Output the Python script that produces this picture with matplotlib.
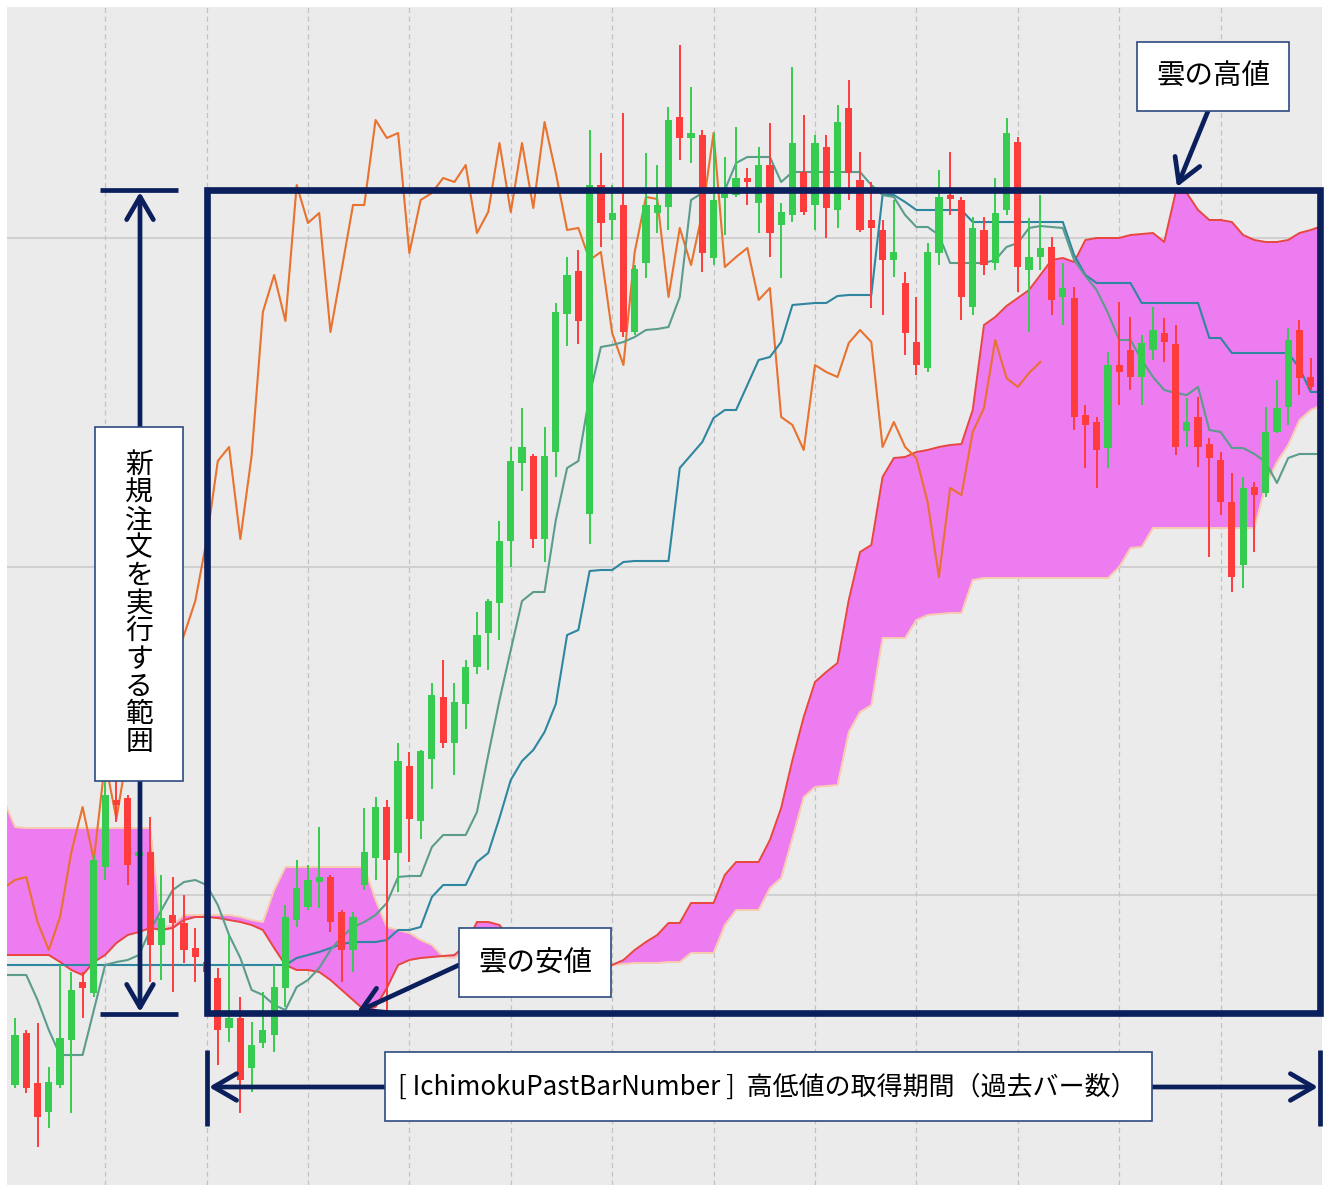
import numpy as np
import matplotlib.pyplot as plt
from matplotlib.patches import Rectangle

plt.rcParams['font.family'] = ['Noto Sans CJK JP', 'DejaVu Sans']

# candles, bar index 0..117 (the last two sit under the right border)
opens = [
    101.00, 101.52, 101.02, 100.73, 101.00, 101.45, 102.03, 101.92, 103.18, 103.85,
    103.87, 103.29, 103.33, 102.40, 102.70, 102.62, 102.37, 102.23, 102.07, 101.57,
    101.67, 101.17, 101.42, 101.50, 101.97, 102.65, 102.78, 103.03, 103.08, 102.73,
    102.35, 103.00, 103.27, 103.78, 103.32, 104.19, 103.64, 104.26, 104.88, 104.42,
    104.81, 105.18, 105.52, 105.82, 106.44, 107.22, 107.29, 106.46, 107.33, 108.71,
    109.14, 106.71, 110.00, 109.65, 109.80, 108.53, 109.22, 109.72, 109.78, 110.68,
    110.47, 110.50, 109.27, 109.87, 109.90, 110.05, 109.82, 110.20, 109.60, 109.70,
    110.13, 109.80, 110.38, 109.75, 110.77, 110.05, 109.65, 109.55, 109.25, 109.02,
    108.43, 108.17, 109.32, 109.88, 109.85, 108.78, 109.55, 109.22, 109.75, 110.43,
    109.15, 109.28, 109.38, 108.88, 108.87, 107.70, 107.63, 107.37, 108.20, 108.35,
    108.08, 108.35, 108.52, 108.41, 107.54, 107.68, 107.41, 107.25, 106.83, 106.20,
    106.98, 106.92, 107.53, 107.78, 108.55, 108.08, 107.98, 108.12,
]
highs = [
    101.67, 101.55, 101.62, 101.18, 102.20, 102.13, 102.13, 103.30, 104.05, 104.05,
    103.90, 103.40, 103.68, 103.10, 103.08, 102.90, 102.57, 102.35, 102.17, 102.50,
    101.88, 101.63, 101.93, 102.20, 102.80, 103.25, 103.20, 103.58, 103.10, 102.75,
    102.73, 103.77, 103.88, 103.85, 104.42, 104.33, 104.35, 105.02, 105.25, 105.02,
    105.25, 105.73, 105.86, 106.64, 107.38, 107.77, 107.31, 107.58, 108.82, 109.28,
    109.35, 110.55, 110.32, 110.00, 110.72, 109.20, 110.32, 110.20, 110.78, 111.40,
    110.98, 110.55, 110.52, 110.28, 110.58, 110.17, 110.38, 110.62, 109.82, 111.18,
    110.70, 110.50, 110.50, 110.80, 111.05, 110.33, 110.03, 109.65, 109.85, 109.13,
    108.88, 109.42, 110.15, 110.33, 109.88, 109.68, 109.68, 110.07, 110.67, 110.48,
    109.67, 109.90, 109.48, 109.22, 108.98, 107.80, 107.68, 108.33, 108.83, 108.68,
    108.50, 108.78, 108.67, 108.60, 107.87, 107.88, 107.47, 107.33, 107.12, 107.08,
    107.03, 107.78, 108.05, 108.57, 108.65, 108.27, 108.20, 108.30,
]
lows = [
    100.97, 100.92, 100.38, 100.57, 100.97, 100.72, 101.67, 101.88, 103.05, 103.63,
    103.00, 103.25, 102.03, 102.05, 101.93, 102.22, 102.03, 101.95, 101.20, 101.43,
    100.72, 100.93, 101.37, 101.33, 101.78, 102.58, 102.75, 102.77, 102.53, 102.03,
    102.13, 102.95, 103.05, 101.75, 102.93, 103.23, 103.46, 103.96, 104.37, 104.10,
    104.56, 105.11, 105.15, 105.45, 106.18, 106.94, 106.37, 106.23, 107.08, 108.39,
    108.41, 106.41, 109.38, 109.45, 108.48, 108.50, 109.07, 109.52, 109.55, 110.25,
    110.22, 109.13, 109.20, 109.50, 109.88, 109.80, 109.52, 109.28, 109.07, 109.63,
    109.70, 109.55, 109.47, 109.57, 109.85, 109.53, 108.77, 108.70, 109.08, 108.30,
    108.10, 108.13, 109.20, 109.70, 108.65, 108.70, 109.10, 109.15, 109.70, 108.93,
    108.53, 109.15, 108.70, 108.60, 107.55, 107.17, 106.97, 107.17, 107.80, 107.95,
    107.80, 108.25, 108.23, 107.30, 107.38, 107.18, 106.28, 106.70, 105.93, 105.97,
    106.33, 106.88, 107.52, 107.60, 107.90, 107.95, 107.90, 108.05,
]
closes = [
    101.50, 100.97, 100.68, 101.03, 101.47, 101.95, 101.97, 103.25, 103.90, 103.80,
    103.20, 103.33, 102.40, 102.67, 102.62, 102.35, 102.28, 102.13, 101.55, 101.67,
    101.05, 101.40, 101.55, 101.98, 102.68, 102.97, 103.05, 103.08, 102.63, 102.35,
    102.68, 103.33, 103.78, 103.25, 104.24, 103.66, 104.34, 104.90, 104.42, 104.83,
    105.18, 105.50, 105.84, 106.44, 107.24, 107.38, 106.46, 107.29, 108.73, 109.10,
    108.64, 110.00, 109.62, 109.72, 108.53, 109.16, 109.80, 109.80, 110.65, 110.47,
    110.52, 109.32, 109.85, 109.92, 110.07, 110.03, 110.20, 109.52, 109.73, 110.42,
    109.73, 110.42, 109.77, 110.63, 110.12, 109.55, 109.57, 109.25, 109.33, 108.52,
    108.20, 109.33, 109.88, 109.86, 108.88, 109.57, 109.20, 109.72, 110.52, 109.18,
    109.28, 109.37, 108.85, 108.97, 107.68, 107.60, 107.35, 108.20, 108.13, 108.08,
    108.42, 108.55, 108.43, 107.38, 107.63, 107.38, 107.27, 106.83, 106.08, 106.97,
    106.90, 107.53, 107.77, 108.45, 108.07, 107.98, 108.12, 108.23,
]

# ichimoku lines as drawn, bar index -1..116
tenkan = [
    102.10, 102.10, 102.10, 101.85, 101.55, 101.30, 101.30, 101.30, 101.75, 102.20,
    102.23, 102.25, 102.30, 102.55, 102.75, 102.95, 103.03, 103.05, 103.00, 102.80,
    102.50, 102.27, 101.95, 101.90, 101.80, 101.75, 101.98, 102.05, 102.17, 102.35,
    102.48, 102.58, 102.63, 102.70, 102.82, 103.08, 103.09, 103.09, 103.38, 103.50,
    103.50, 103.50, 103.73, 104.30, 104.85, 105.35, 105.84, 105.93, 105.93, 106.65,
    107.17, 107.24, 107.90, 108.38, 108.40, 108.43, 108.48, 108.55, 108.56, 108.58,
    108.88, 109.85, 109.92, 109.93, 109.95, 110.22, 110.28, 110.28, 110.28, 110.03,
    110.13, 110.13, 110.13, 110.13, 110.13, 110.13, 110.13, 110.00, 109.90, 109.88,
    109.70, 109.58, 109.58, 109.50, 109.22, 109.22, 109.22, 109.22, 109.25, 109.38,
    109.42, 109.57, 109.59, 109.58, 109.57, 109.25, 109.09, 108.95, 108.72, 108.45,
    108.45, 108.25, 108.08, 107.95, 107.92, 107.90, 107.98, 107.55, 107.53, 107.37,
    107.37, 107.31, 107.23, 107.02, 107.27, 107.31, 107.31, 107.31,
]
kijun = [
    102.20, 102.20, 102.20, 102.20, 102.20, 102.20, 102.20, 102.20, 102.20, 102.20,
    102.20, 102.20, 102.20, 102.20, 102.20, 102.20, 102.20, 102.20, 102.20, 102.20,
    102.20, 102.20, 102.20, 102.20, 102.20, 102.20, 102.27, 102.30, 102.33, 102.37,
    102.41, 102.43, 102.43, 102.43, 102.45, 102.55, 102.55, 102.58, 102.88, 103.00,
    103.00, 103.00, 103.23, 103.32, 103.67, 104.05, 104.24, 104.35, 104.53, 104.81,
    105.50, 105.55, 106.14, 106.15, 106.15, 106.23, 106.24, 106.24, 106.24, 106.24,
    107.17, 107.30, 107.43, 107.67, 107.75, 107.75, 108.00, 108.25, 108.28, 108.43,
    108.80, 108.81, 108.82, 108.82, 108.89, 108.90, 108.90, 108.90, 109.90, 109.90,
    109.83, 109.75, 109.75, 109.75, 109.75, 109.75, 109.63, 109.63, 109.63, 109.63,
    109.63, 109.63, 109.63, 109.63, 109.63, 109.30, 109.10, 109.02, 109.02, 109.02,
    109.02, 108.82, 108.82, 108.82, 108.82, 108.82, 108.82, 108.47, 108.47, 108.32,
    108.32, 108.32, 108.32, 108.32, 108.32, 108.17, 107.93, 107.93,
]
span_a = [
    102.30, 102.30, 102.30, 102.30, 102.30, 102.23, 102.15, 102.10, 102.23, 102.30,
    102.42, 102.50, 102.53, 102.57, 102.55, 102.57, 102.65, 102.68, 102.68, 102.67,
    102.65, 102.63, 102.60, 102.55, 102.37, 102.20, 102.15, 102.15, 102.13, 102.05,
    101.95, 101.85, 101.75, 101.78, 101.97, 102.20, 102.25, 102.27, 102.28, 102.29,
    102.30, 102.40, 102.63, 102.63, 102.60, 102.45, 102.22, 102.22, 102.22, 102.22,
    102.22, 102.22, 102.22, 102.22, 102.20, 102.25, 102.35, 102.43, 102.50, 102.62,
    102.62, 102.82, 102.82, 102.82, 103.10, 103.23, 103.23, 103.23, 103.45, 103.77,
    104.25, 104.68, 105.03, 105.13, 105.22, 105.85, 106.33, 106.40, 107.08, 107.27,
    107.28, 107.33, 107.35, 107.38, 107.40, 107.41, 107.75, 108.60, 108.68, 108.79,
    108.87, 108.95, 109.10, 109.25, 109.27, 109.23, 109.45, 109.47, 109.47, 109.47,
    109.50, 109.51, 109.52, 109.43, 109.92, 109.92, 109.75, 109.65, 109.65, 109.63,
    109.50, 109.45, 109.43, 109.43, 109.45, 109.52, 109.55, 109.59,
]
span_b = [
    103.85, 103.58, 103.57, 103.57, 103.57, 103.57, 103.57, 103.57, 103.57, 103.57,
    103.57, 103.57, 103.57, 103.57, 102.57, 102.60, 102.70, 102.70, 102.70, 102.70,
    102.70, 102.68, 102.65, 102.63, 102.95, 103.18, 103.18, 103.18, 103.18, 103.18,
    103.18, 103.18, 103.18, 102.85, 102.58, 102.55, 102.52, 102.45, 102.40, 102.28,
    102.27, 102.35, 102.40, 102.40, 102.35, 102.30, 102.20, 102.20, 102.20, 102.20,
    102.20, 102.20, 102.20, 102.20, 102.20, 102.21, 102.22, 102.22, 102.22, 102.23,
    102.23, 102.32, 102.32, 102.32, 102.60, 102.75, 102.75, 102.75, 102.97, 103.07,
    103.47, 103.88, 103.98, 103.99, 104.00, 104.53, 104.73, 104.80, 105.47, 105.47,
    105.47, 105.65, 105.70, 105.71, 105.72, 105.72, 106.05, 106.07, 106.07, 106.07,
    106.07, 106.07, 106.07, 106.07, 106.07, 106.07, 106.07, 106.07, 106.07, 106.18,
    106.37, 106.38, 106.57, 106.57, 106.57, 106.57, 106.57, 106.57, 106.57, 106.57,
    106.57, 106.57, 107.00, 107.23, 107.40, 107.65, 107.75, 107.80,
]
chikou_shift = 26

navy = '#0b1f5c'

fig = plt.figure(figsize=(13.24, 11.85), dpi=100)
ax = fig.add_axes([7 / 1324, 0, 1315 / 1324, 1178 / 1185])
ax.set_facecolor('#ebebeb')

xc = np.arange(len(opens))
xl = np.arange(len(tenkan)) - 1

# cloud
ax.fill_between(xl, span_a, span_b, color='#ec7cf0', lw=0, zorder=1)
ax.plot(xl, span_b, color='#f7cdb0', lw=1.4, zorder=2)
ax.plot(xl, span_a, color='#e8463e', lw=1.4, zorder=2)

# lagging span, tenkan, kijun
ax.plot(xc - chikou_shift, closes, color='#e8722e', lw=1.5, zorder=3)
ax.plot(xl, kijun, color='#2f86a0', lw=1.5, zorder=3)
ax.plot(xl, tenkan, color='#5b9c8c', lw=1.5, zorder=3)

# candles
o, h, l, c = map(np.array, (opens, highs, lows, closes))
col = np.where(c >= o, '#36cc4f', '#ff3c3c')
ax.vlines(xc, l, h, colors=col, lw=1.4, zorder=4)
ax.bar(xc, np.maximum(np.abs(c - o), 0.04), bottom=np.minimum(o, c),
       width=0.64, color=col, lw=0, zorder=5)

ax.set_xlim(-0.71, 115.87)
ax.set_ylim(100.0, 111.78)
ax.set_xticks(np.arange(8, 117, 9))
ax.set_yticks([102.90, 106.18, 109.47])
ax.tick_params(length=0, labelbottom=False, labelleft=False)
ax.set_axisbelow(True)
ax.grid(axis='y', color='#c8c8c8', lw=1.1)
ax.grid(axis='x', color='#c2c2c2', lw=0.9, ls=(0, (4, 3)))
for s in ax.spines.values():
    s.set_visible(False)

# annotation layer in pixel space
ov = fig.add_axes([0, 0, 1, 1])
ov.set_xlim(0, 1324)
ov.set_ylim(1185, 0)
ov.axis('off')
ov.patch.set_alpha(0)

ov.add_patch(Rectangle((207, 190), 1113, 823, fill=False, ec=navy, lw=4.8,
                       joinstyle='miter', zorder=5))

arrow = dict(arrowstyle='<->,head_length=0.55,head_width=0.32', lw=3.4,
             color=navy, mutation_scale=30, shrinkA=0, shrinkB=0)
one_way = dict(arrowstyle='->,head_length=0.55,head_width=0.32', lw=3.4,
               color=navy, mutation_scale=30, shrinkA=0, shrinkB=0)

# vertical range arrow (left)
ov.annotate('', xy=(140, 192), xytext=(140, 1012), arrowprops=arrow, zorder=4)
ov.plot([100, 178], [190, 190], color=navy, lw=3.4, solid_capstyle='butt', zorder=4)
ov.plot([100, 178], [1014, 1014], color=navy, lw=3.4, solid_capstyle='butt', zorder=4)

# horizontal period arrow (bottom)
ov.annotate('', xy=(209, 1087), xytext=(1318, 1087), arrowprops=arrow, zorder=4)
ov.plot([207, 207], [1050, 1126], color=navy, lw=3.4, solid_capstyle='butt', zorder=4)
ov.plot([1320, 1320], [1050, 1126], color=navy, lw=3.4, solid_capstyle='butt', zorder=4)

# callout arrows
ov.annotate('', xy=(1177, 187), xytext=(1208, 111), arrowprops=one_way, zorder=4)
ov.annotate('', xy=(357, 1012), xytext=(459, 965), arrowprops=one_way, zorder=4)

box = dict(fc='white', ec='#2d4a80', lw=1.2, zorder=6)
ov.add_patch(Rectangle((95, 427), 88, 354, **box))
ov.add_patch(Rectangle((385, 1052), 767, 69, **box))
ov.add_patch(Rectangle((1137, 42), 152, 69, **box))
ov.add_patch(Rectangle((459, 928), 152, 69, **box))

for k, ch in enumerate('新規注文を実行する範囲'):
    ov.text(139, 465 + k * 27.7, ch, ha='center', va='center', fontsize=20,
            color='black', zorder=7)

ov.text(767, 1087, '[ IchimokuPastBarNumber ]  高低値の取得期間（過去バー数）',
        ha='center', va='center', fontsize=18.7, color='black', zorder=7)
ov.text(1213, 77, '雲の高値', ha='center', va='center', fontsize=20.5,
        color='black', zorder=7)
ov.text(535, 963, '雲の安値', ha='center', va='center', fontsize=20.5,
        color='black', zorder=7)

fig.savefig('out.png', dpi=100)
